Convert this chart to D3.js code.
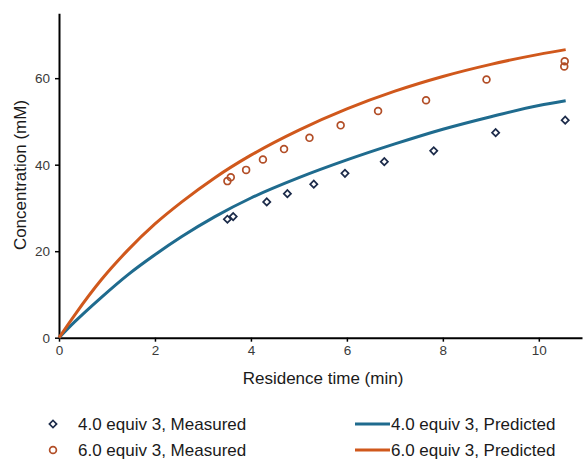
<!DOCTYPE html>
<html>
<head>
<meta charset="utf-8">
<script src="https://cdn.jsdelivr.net/npm/d3@7"></script>
<style>
  html, body { margin: 0; padding: 0; background: #fff; }
  svg { display: block; font-family: "Liberation Sans", Arial, sans-serif; }
</style>
</head>
<body>
<svg id="chart" width="585" height="459"></svg>
<script>
// Measured points
const meas4_t = [3.51, 3.63, 4.33, 4.76, 5.31, 5.96, 6.78, 7.81, 9.10, 10.55];
const meas4_c = [27.4, 28.0, 31.4, 33.3, 35.5, 38.0, 40.7, 43.2, 47.4, 50.3];
const meas6_t = [3.51, 3.58, 3.90, 4.25, 4.69, 5.22, 5.87, 6.65, 7.65, 8.91, 10.54, 10.53];
const meas6_c = [36.2, 37.1, 38.8, 41.2, 43.6, 46.2, 49.1, 52.4, 54.9, 59.7, 63.9, 62.7];
// Predicted curves
const pred_t  = [0, 0.33, 0.89, 1.44, 2.0, 2.56, 3.25, 4, 5, 6, 7, 8, 9, 10, 10.56];
const pred4_c = [0, 3.7, 9.4, 14.6, 19.2, 23.4, 28.0, 32.3, 37.0, 41.1, 44.8, 48.2, 51.1, 53.7, 54.8];
const pred6_c = [0, 5.3, 13.5, 20.3, 26.3, 31.4, 37.0, 42.2, 48.0, 52.9, 57.0, 60.4, 63.2, 65.5, 66.6];
// Ticks
const xTicks = [0, 2, 4, 6, 8, 10];
const yTicks = [0, 20, 40, 60];
const legendLabels = ["4.0 equiv 3, Measured", "6.0 equiv 3, Measured", "4.0 equiv 3, Predicted", "6.0 equiv 3, Predicted"];

const colTeal = "#1f6b8e", colOrange = "#d0581c", colDiamond = "#1c2b4a", colCircle = "#b24e27";

const svg = d3.select("#chart");
const x = d3.scaleLinear().domain([0, 10.9]).range([59, 582]);
const y = d3.scaleLinear().domain([0, 75]).range([337.7, 13.3]);

// Axes
const xAxis = svg.append("g").attr("transform", "translate(0,337.7)")
  .call(d3.axisBottom(x).tickValues(xTicks).tickSize(4).tickSizeOuter(0).tickPadding(4));
const yAxis = svg.append("g").attr("transform", "translate(59,0)")
  .call(d3.axisLeft(y).tickValues(yTicks).tickSize(4).tickSizeOuter(0).tickPadding(5));
[xAxis, yAxis].forEach(g => {
  g.select(".domain").attr("stroke", "#000").attr("stroke-width", 2);
  g.selectAll(".tick line").attr("stroke", "#000").attr("stroke-width", 1.5);
  g.selectAll(".tick text").attr("fill", "#3a3a3a").style("font-size", "13.5px")
   .style("font-family", "'Liberation Sans', Arial, sans-serif");
});

// Axis titles
svg.append("text").attr("x", 323).attr("y", 384).attr("text-anchor", "middle")
  .attr("fill", "#1a1a1a").style("font-size", "17px").text("Residence time (min)");
svg.append("text").attr("transform", "translate(26,175) rotate(-90)").attr("text-anchor", "middle")
  .attr("fill", "#1a1a1a").style("font-size", "17px").text("Concentration (mM)");

// Lines
const line = d3.line().x(d => x(d[0])).y(d => y(d[1])).curve(d3.curveMonotoneX);
svg.append("path").datum(pred_t.map((t, i) => [t, pred4_c[i]]))
  .attr("d", line).attr("fill", "none").attr("stroke", colTeal).attr("stroke-width", 3);
svg.append("path").datum(pred_t.map((t, i) => [t, pred6_c[i]]))
  .attr("d", line).attr("fill", "none").attr("stroke", colOrange).attr("stroke-width", 3);

// Markers
const diamond = d3.symbol().type(d3.symbolSquare).size(26);
svg.append("g").selectAll("path").data(meas4_t.map((t, i) => [t, meas4_c[i]])).join("path")
  .attr("d", diamond()).attr("transform", d => `translate(${x(d[0])},${y(d[1])}) rotate(45)`)
  .attr("fill", "#fff").attr("stroke", colDiamond).attr("stroke-width", 1.7);
svg.append("g").selectAll("circle").data(meas6_t.map((t, i) => [t, meas6_c[i]])).join("circle")
  .attr("cx", d => x(d[0])).attr("cy", d => y(d[1])).attr("r", 3.4)
  .attr("fill", "none").attr("stroke", colCircle).attr("stroke-width", 1.7);

// Legend
const lg = svg.append("g").style("font-size", "17px").attr("fill", "#1a1a1a");
lg.append("path").attr("d", diamond()).attr("transform", "translate(53,424) rotate(45)")
  .attr("fill", "#fff").attr("stroke", colDiamond).attr("stroke-width", 1.7);
lg.append("circle").attr("cx", 53).attr("cy", 450).attr("r", 3.4)
  .attr("fill", "none").attr("stroke", colCircle).attr("stroke-width", 1.7);
lg.append("line").attr("x1", 355).attr("x2", 390).attr("y1", 424).attr("y2", 424)
  .attr("stroke", colTeal).attr("stroke-width", 3);
lg.append("line").attr("x1", 355).attr("x2", 390).attr("y1", 450).attr("y2", 450)
  .attr("stroke", colOrange).attr("stroke-width", 3);
lg.append("text").attr("x", 78).attr("y", 430).text(legendLabels[0]);
lg.append("text").attr("x", 78).attr("y", 456).text(legendLabels[1]);
lg.append("text").attr("x", 391).attr("y", 430).text(legendLabels[2]);
lg.append("text").attr("x", 391).attr("y", 456).text(legendLabels[3]);
</script>
</body>
</html>
